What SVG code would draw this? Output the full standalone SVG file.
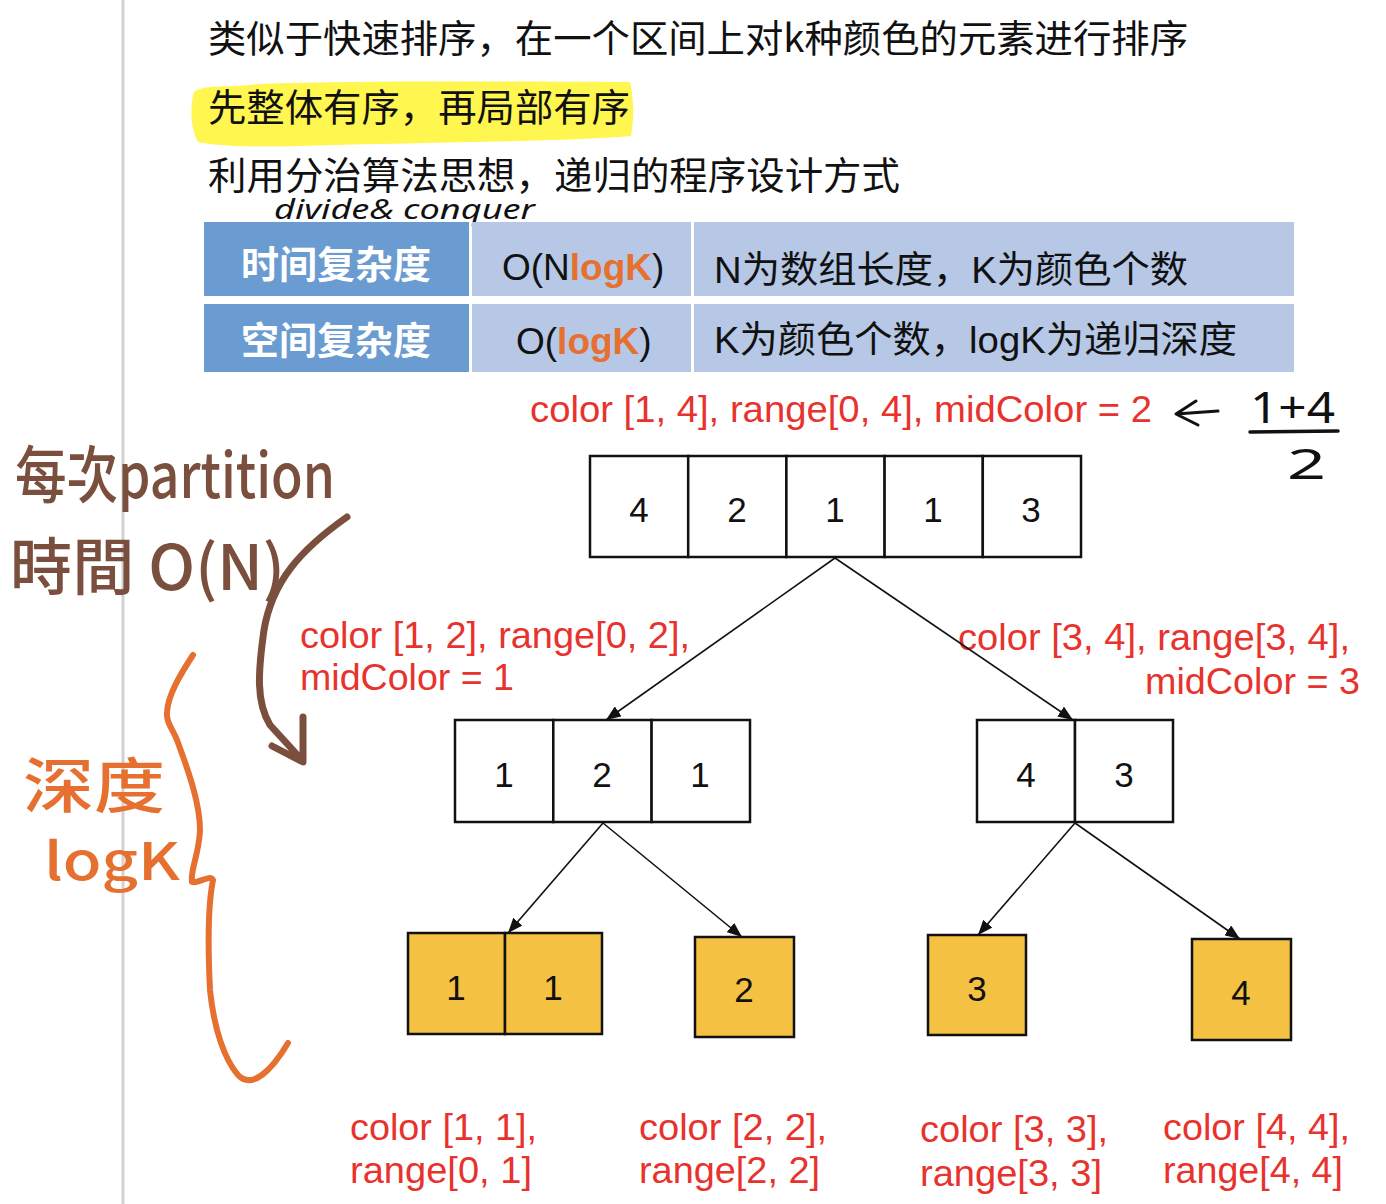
<svg xmlns="http://www.w3.org/2000/svg" width="1386" height="1204" viewBox="0 0 1386 1204">
<defs>
<style>
.cn{font-family:"Noto Sans CJK SC","Liberation Sans",sans-serif;font-size:38px;fill:#111}
.hd{font-family:"Noto Sans CJK SC",sans-serif;font-size:38px;font-weight:bold;fill:#fff}
.mx{font-family:"Liberation Sans","Noto Sans CJK SC",sans-serif;font-size:37px;fill:#111}
.og{fill:#e5702f;font-weight:bold}
.red{font-family:"Liberation Sans",Arial,sans-serif;font-size:37px;fill:#e8322d}
.num{font-family:"Liberation Sans",Arial,sans-serif;font-size:35px;fill:#111;text-anchor:middle}
.cell{fill:#fff;stroke:#111;stroke-width:2.5}
.ycell{fill:#f4c142;stroke:#111;stroke-width:2.5}
.dark{fill:#6a9bd1}
.light{fill:#b6c8e6}
.conn{stroke:#111;stroke-width:1.6;fill:none;marker-end:url(#ah)}
.brown{font-family:"Noto Sans CJK TC","Noto Sans",sans-serif;fill:#7b4f3d;font-weight:500}
.orange{font-family:"Noto Sans CJK SC","Noto Sans",sans-serif;fill:#e5702f;font-weight:500}
.ink{font-family:"Noto Sans","DejaVu Sans",sans-serif;fill:#111}
</style>
<marker id="ah" markerUnits="userSpaceOnUse" markerWidth="16" markerHeight="12" refX="15" refY="6" orient="auto">
<path d="M0,0 L15,6 L0,12 z" fill="#111"/>
</marker>
</defs>
<rect width="1386" height="1204" fill="#fff"/>
<line x1="123" y1="0" x2="123" y2="1204" stroke="#d2d2d2" stroke-width="3"/>

<g id="intro">
<text class="cn" x="208" y="52" textLength="980" lengthAdjust="spacingAndGlyphs">类似于快速排序，在一个区间上对k种颜色的元素进行排序</text>
<path d="M194,92 C205,84 225,88 260,84 C380,80 520,82 630,82 C634,100 634,120 631,136 C560,142 420,142 300,146 C250,147 215,146 198,142 C190,128 190,105 194,92 z" fill="#fff650"/>
<text class="cn" x="208" y="121" textLength="422" lengthAdjust="spacingAndGlyphs">先整体有序，再局部有序</text>
<text class="cn" x="208" y="189" textLength="692" lengthAdjust="spacingAndGlyphs">利用分治算法思想，递归的程序设计方式</text>
<text class="ink" x="274" y="219" font-size="27" font-style="italic" textLength="261" lengthAdjust="spacingAndGlyphs">divide&amp; conquer</text>
</g>

<g id="table">
<rect class="dark" x="204" y="222" width="265" height="74"/>
<rect class="light" x="472" y="222" width="219" height="74"/>
<rect class="light" x="694" y="222" width="600" height="74"/>
<rect class="dark" x="204" y="304" width="265" height="68"/>
<rect class="light" x="472" y="304" width="219" height="68"/>
<rect class="light" x="694" y="304" width="600" height="68"/>
<text class="hd" x="336" y="278" text-anchor="middle">时间复杂度</text>
<text class="hd" x="336" y="354" text-anchor="middle">空间复杂度</text>
<text class="mx" x="502" y="280">O(N<tspan class="og">logK</tspan>)</text>
<text class="mx" x="516" y="354">O(<tspan class="og">logK</tspan>)</text>
<text class="mx" x="714" y="283" textLength="474" lengthAdjust="spacingAndGlyphs">N为数组长度，K为颜色个数</text>
<text class="mx" x="714" y="353" textLength="523" lengthAdjust="spacingAndGlyphs">K为颜色个数，logK为递归深度</text>
</g>

<g id="notes">
<text class="brown" x="15" y="498" font-size="62" textLength="320" lengthAdjust="spacingAndGlyphs">每次partition</text>
<text class="brown" x="10" y="590" font-size="62" textLength="275" lengthAdjust="spacingAndGlyphs">時間 O(N)</text>
<path d="M347,517 C300,550 272,582 264,630 C258,672 256,702 270,725 L302,760 M303,717 L303,762 L272,746" fill="none" stroke="#7b4f3d" stroke-width="7" stroke-linecap="round" stroke-linejoin="round"/>
<text class="orange" x="23" y="808" font-size="60" textLength="142" lengthAdjust="spacingAndGlyphs">深度</text>
<text class="orange" x="44" y="880" font-size="52" textLength="136" lengthAdjust="spacingAndGlyphs">logK</text>
<path d="M193,655 C180,675 168,695 167,712 C166,722 172,728 177,740 C190,775 200,805 200,830 C199,855 190,870 192,882 C198,884 210,874 213,880 C208,905 208,950 210,990 C214,1030 225,1060 238,1075 C252,1090 272,1070 288,1043" fill="none" stroke="#e5702f" stroke-width="6" stroke-linecap="round" stroke-linejoin="round"/>
<path d="M1218,411 L1176,414 M1196,401 L1176,414 L1198,425" fill="none" stroke="#111" stroke-width="3" stroke-linecap="round" stroke-linejoin="round"/>
<text class="ink" x="1250" y="423" font-size="44" textLength="85" lengthAdjust="spacingAndGlyphs">1+4</text>
<line x1="1250" y1="432" x2="1338" y2="431" stroke="#111" stroke-width="3.5" stroke-linecap="round"/>
<text class="ink" x="1287" y="479" font-size="42" textLength="39" lengthAdjust="spacingAndGlyphs">2</text>
</g>

<g id="label-root"><text class="red" x="530" y="422" textLength="622" lengthAdjust="spacingAndGlyphs">color [1, 4], range[0, 4], midColor = 2</text></g>

<g id="node-root">
<rect class="cell" x="590" y="456" width="98.2" height="101"/>
<rect class="cell" x="688.2" y="456" width="98.2" height="101"/>
<rect class="cell" x="786.4" y="456" width="98.2" height="101"/>
<rect class="cell" x="884.6" y="456" width="98.2" height="101"/>
<rect class="cell" x="982.8" y="456" width="98.2" height="101"/>
<text class="num" x="639" y="522">4</text>
<text class="num" x="737" y="522">2</text>
<text class="num" x="835" y="522">1</text>
<text class="num" x="933" y="522">1</text>
<text class="num" x="1031" y="522">3</text>
</g>

<g id="label-left">
<text class="red" x="300" y="648" textLength="390" lengthAdjust="spacingAndGlyphs">color [1, 2], range[0, 2],</text>
<text class="red" x="300" y="690" textLength="214" lengthAdjust="spacingAndGlyphs">midColor = 1</text>
</g>
<g id="label-right">
<text class="red" x="958" y="650" textLength="392" lengthAdjust="spacingAndGlyphs">color [3, 4], range[3, 4],</text>
<text class="red" x="1145" y="694" textLength="215" lengthAdjust="spacingAndGlyphs">midColor = 3</text>
</g>

<g id="node-left">
<rect class="cell" x="455" y="720" width="98.3" height="102"/>
<rect class="cell" x="553.3" y="720" width="98.3" height="102"/>
<rect class="cell" x="651.6" y="720" width="98.4" height="102"/>
<text class="num" x="504" y="787">1</text>
<text class="num" x="602" y="787">2</text>
<text class="num" x="700" y="787">1</text>
</g>
<g id="node-right">
<rect class="cell" x="977" y="720" width="98" height="102"/>
<rect class="cell" x="1075" y="720" width="98" height="102"/>
<text class="num" x="1026" y="787">4</text>
<text class="num" x="1124" y="787">3</text>
</g>

<g id="node-11">
<rect class="ycell" x="408" y="933" width="97" height="101"/>
<rect class="ycell" x="505" y="933" width="97" height="101"/>
<text class="num" x="456" y="1000">1</text>
<text class="num" x="553" y="1000">1</text>
</g>
<g id="node-2">
<rect class="ycell" x="695" y="937" width="99" height="100"/>
<text class="num" x="744" y="1002">2</text>
</g>
<g id="node-3">
<rect class="ycell" x="928" y="935" width="98" height="100"/>
<text class="num" x="977" y="1001">3</text>
</g>
<g id="node-4">
<rect class="ycell" x="1192" y="939" width="99" height="101"/>
<text class="num" x="1241" y="1005">4</text>
</g>

<g id="labels-leaf">
<text class="red" x="350" y="1140" textLength="187" lengthAdjust="spacingAndGlyphs">color [1, 1],</text>
<text class="red" x="350" y="1183" textLength="182" lengthAdjust="spacingAndGlyphs">range[0, 1]</text>
<text class="red" x="639" y="1140" textLength="188" lengthAdjust="spacingAndGlyphs">color [2, 2],</text>
<text class="red" x="639" y="1183" textLength="181" lengthAdjust="spacingAndGlyphs">range[2, 2]</text>
<text class="red" x="920" y="1142" textLength="188" lengthAdjust="spacingAndGlyphs">color [3, 3],</text>
<text class="red" x="920" y="1186" textLength="182" lengthAdjust="spacingAndGlyphs">range[3, 3]</text>
<text class="red" x="1163" y="1140" textLength="187" lengthAdjust="spacingAndGlyphs">color [4, 4],</text>
<text class="red" x="1163" y="1183" textLength="180" lengthAdjust="spacingAndGlyphs">range[4, 4]</text>
</g>

<g id="connectors">
<line class="conn" x1="835" y1="558" x2="606" y2="720"/>
<line class="conn" x1="835" y1="558" x2="1073" y2="720"/>
<line class="conn" x1="603" y1="823" x2="508" y2="933"/>
<line class="conn" x1="603" y1="823" x2="742" y2="937"/>
<line class="conn" x1="1075" y1="823" x2="978" y2="935"/>
<line class="conn" x1="1075" y1="823" x2="1240" y2="939"/>
</g>
</svg>
